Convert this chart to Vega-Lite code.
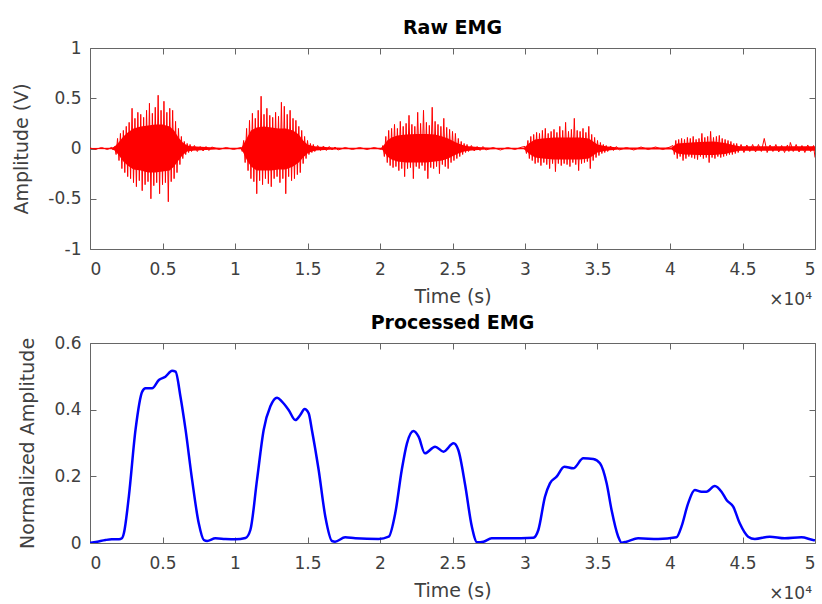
{
  "$schema": "https://vega.github.io/schema/vega-lite/v6.json",
  "padding": {"left": 12, "top": 18, "right": 5, "bottom": 2},
  "config": {
    "font": "DejaVu Sans",
    "view": {"stroke": "#666666", "strokeWidth": 1},
    "axis": {
      "grid": false, "domain": false, "tickColor": "#666666", "tickSize": -6, "tickWidth": 1,
      "labelFont": "DejaVu Sans", "labelFontSize": 17, "labelColor": "#404040",
      "titleFont": "DejaVu Sans", "titleFontSize": 19, "titleFontWeight": "normal", "titleColor": "#404040"
    },
    "axisX": {"labelPadding": 18, "titlePadding": 10},
    "axisY": {"labelPadding": 15, "titlePadding": 16},
    "title": {"font": "DejaVu Sans", "fontSize": 19, "fontWeight": "bold", "color": "#000000", "offset": 1},
    "concat": {"spacing": 4}
  },
  "vconcat": [
    {
      "title": "Raw EMG",
      "width": 725,
      "height": 201,
      "layer": [
        {
          "data": {"values": [
            {"t":0,"hi":0.006,"lo":-0.006},{"t":1500,"hi":0.008,"lo":-0.008},{"t":1700,"hi":0.02,"lo":-0.02},{"t":2000,"hi":0.065,"lo":-0.07},{"t":2300,"hi":0.12,"lo":-0.13},{"t":2600,"hi":0.16,"lo":-0.17},
            {"t":3000,"hi":0.2,"lo":-0.21},{"t":3500,"hi":0.22,"lo":-0.22},{"t":4000,"hi":0.23,"lo":-0.24},{"t":4500,"hi":0.24,"lo":-0.24},{"t":5000,"hi":0.24,"lo":-0.23},{"t":5500,"hi":0.22,"lo":-0.22},
            {"t":5800,"hi":0.18,"lo":-0.18},{"t":6100,"hi":0.11,"lo":-0.12},{"t":6400,"hi":0.06,"lo":-0.065},{"t":6700,"hi":0.03,"lo":-0.03},{"t":7000,"hi":0.022,"lo":-0.022},{"t":8000,"hi":0.014,"lo":-0.014},
            {"t":9000,"hi":0.008,"lo":-0.008},{"t":10400,"hi":0.008,"lo":-0.008},{"t":10500,"hi":0.02,"lo":-0.02},{"t":10800,"hi":0.1,"lo":-0.11},{"t":11100,"hi":0.18,"lo":-0.18},{"t":11500,"hi":0.21,"lo":-0.22},
            {"t":12000,"hi":0.22,"lo":-0.22},{"t":12500,"hi":0.21,"lo":-0.22},{"t":13000,"hi":0.2,"lo":-0.21},{"t":13500,"hi":0.2,"lo":-0.21},{"t":14000,"hi":0.18,"lo":-0.18},{"t":14400,"hi":0.14,"lo":-0.14},
            {"t":14700,"hi":0.08,"lo":-0.09},{"t":15000,"hi":0.04,"lo":-0.05},{"t":15300,"hi":0.028,"lo":-0.03},{"t":15600,"hi":0.02,"lo":-0.02},{"t":16500,"hi":0.012,"lo":-0.012},{"t":17500,"hi":0.008,"lo":-0.008},
            {"t":20100,"hi":0.008,"lo":-0.008},{"t":20200,"hi":0.02,"lo":-0.02},{"t":20500,"hi":0.08,"lo":-0.08},{"t":20800,"hi":0.11,"lo":-0.11},{"t":21200,"hi":0.13,"lo":-0.13},{"t":21800,"hi":0.14,"lo":-0.14},
            {"t":22500,"hi":0.145,"lo":-0.14},{"t":23200,"hi":0.145,"lo":-0.14},{"t":23800,"hi":0.14,"lo":-0.13},{"t":24300,"hi":0.12,"lo":-0.12},{"t":24700,"hi":0.1,"lo":-0.1},{"t":25100,"hi":0.07,"lo":-0.07},
            {"t":25400,"hi":0.05,"lo":-0.05},{"t":25800,"hi":0.03,"lo":-0.03},{"t":26100,"hi":0.022,"lo":-0.022},{"t":27000,"hi":0.012,"lo":-0.012},{"t":28000,"hi":0.008,"lo":-0.008},{"t":29900,"hi":0.008,"lo":-0.008},
            {"t":30000,"hi":0.015,"lo":-0.015},{"t":30300,"hi":0.055,"lo":-0.055},{"t":30700,"hi":0.09,"lo":-0.09},{"t":31200,"hi":0.1,"lo":-0.1},{"t":32000,"hi":0.11,"lo":-0.11},{"t":33000,"hi":0.11,"lo":-0.11},
            {"t":33800,"hi":0.11,"lo":-0.11},{"t":34400,"hi":0.1,"lo":-0.1},{"t":34700,"hi":0.07,"lo":-0.07},{"t":35000,"hi":0.04,"lo":-0.04},{"t":35400,"hi":0.028,"lo":-0.028},{"t":35700,"hi":0.02,"lo":-0.02},
            {"t":36500,"hi":0.01,"lo":-0.01},{"t":40100,"hi":0.01,"lo":-0.01},{"t":40200,"hi":0.02,"lo":-0.02},{"t":40500,"hi":0.05,"lo":-0.05},{"t":41000,"hi":0.055,"lo":-0.06},{"t":42000,"hi":0.065,"lo":-0.065},
            {"t":43000,"hi":0.07,"lo":-0.065},{"t":43800,"hi":0.055,"lo":-0.055},{"t":44200,"hi":0.04,"lo":-0.04},{"t":44600,"hi":0.028,"lo":-0.028},{"t":44800,"hi":0.022,"lo":-0.022},{"t":50000,"hi":0.022,"lo":-0.022}
          ]},
          "mark": {"type": "area", "color": "#ff0000", "opacity": 1, "clip": true},
          "encoding": {
            "x": {"field": "t", "type": "quantitative", "axis": null},
            "y": {"field": "hi", "type": "quantitative", "axis": null},
            "y2": {"field": "lo"}
          }
        },
        {
          "data": {"values": [
            {"t":0,"v":0.005},{"t":400,"v":-0.008},{"t":800,"v":0.01},{"t":1200,"v":-0.01},{"t":1500,"v":0.012},{"t":1600,"v":-0.015},
            {"t":1700,"v":0.02},{"t":1800,"v":-0.06},{"t":1900,"v":0.10},{"t":2000,"v":-0.12},{"t":2100,"v":0.15},{"t":2200,"v":-0.20},{"t":2300,"v":0.18},{"t":2400,"v":-0.24},{"t":2500,"v":0.22},{"t":2600,"v":-0.28},
            {"t":2700,"v":0.26},{"t":2800,"v":-0.30},{"t":2900,"v":0.40},{"t":3000,"v":-0.34},{"t":3100,"v":0.30},{"t":3200,"v":-0.38},{"t":3300,"v":0.36},{"t":3400,"v":-0.32},{"t":3500,"v":0.34},{"t":3600,"v":-0.42},
            {"t":3700,"v":0.31},{"t":3800,"v":-0.36},{"t":3900,"v":0.38},{"t":4000,"v":-0.33},{"t":4100,"v":0.45},{"t":4200,"v":-0.50},{"t":4300,"v":0.35},{"t":4400,"v":-0.37},{"t":4500,"v":0.41},{"t":4600,"v":-0.34},
            {"t":4700,"v":0.53},{"t":4800,"v":-0.45},{"t":4900,"v":0.38},{"t":5000,"v":-0.36},{"t":5100,"v":0.47},{"t":5200,"v":-0.34},{"t":5300,"v":0.36},{"t":5400,"v":-0.53},{"t":5500,"v":0.40},{"t":5600,"v":-0.33},
            {"t":5700,"v":0.38},{"t":5800,"v":-0.30},{"t":5900,"v":0.27},{"t":6000,"v":-0.24},{"t":6100,"v":0.20},{"t":6200,"v":-0.16},{"t":6300,"v":0.12},{"t":6400,"v":-0.10},{"t":6500,"v":0.07},{"t":6600,"v":-0.06},
            {"t":6700,"v":0.05},{"t":6800,"v":-0.04},{"t":6900,"v":0.04},{"t":7000,"v":-0.03},
            {"t":7200,"v":0.03},{"t":7400,"v":-0.03},{"t":7600,"v":0.02},{"t":7800,"v":-0.025},{"t":8000,"v":0.02},{"t":8200,"v":-0.02},{"t":8400,"v":0.015},
            {"t":8900,"v":-0.01},{"t":9400,"v":0.01},{"t":9900,"v":-0.01},{"t":10400,"v":0.01},
            {"t":10500,"v":-0.03},{"t":10600,"v":0.08},{"t":10700,"v":-0.14},{"t":10800,"v":0.20},{"t":10900,"v":-0.22},{"t":11000,"v":0.28},{"t":11100,"v":-0.30},{"t":11200,"v":0.35},{"t":11300,"v":-0.33},{"t":11400,"v":0.30},
            {"t":11500,"v":-0.45},{"t":11600,"v":0.38},{"t":11700,"v":-0.32},{"t":11800,"v":0.52},{"t":11900,"v":-0.36},{"t":12000,"v":0.34},{"t":12100,"v":-0.30},{"t":12200,"v":0.40},{"t":12300,"v":-0.35},{"t":12400,"v":0.33},
            {"t":12500,"v":-0.38},{"t":12600,"v":0.31},{"t":12700,"v":-0.30},{"t":12800,"v":0.36},{"t":12900,"v":-0.28},{"t":13000,"v":0.32},{"t":13100,"v":-0.34},{"t":13200,"v":0.46},{"t":13300,"v":-0.30},{"t":13400,"v":0.42},
            {"t":13500,"v":-0.45},{"t":13600,"v":0.34},{"t":13700,"v":-0.28},{"t":13800,"v":0.38},{"t":13900,"v":-0.32},{"t":14000,"v":0.30},{"t":14100,"v":-0.30},{"t":14200,"v":0.28},{"t":14300,"v":-0.26},{"t":14400,"v":0.22},
            {"t":14500,"v":-0.24},{"t":14600,"v":0.18},{"t":14700,"v":-0.15},{"t":14800,"v":0.12},{"t":14900,"v":-0.10},{"t":15000,"v":0.08},{"t":15100,"v":-0.06},{"t":15200,"v":0.05},{"t":15300,"v":-0.04},{"t":15400,"v":0.04},
            {"t":15500,"v":-0.03},{"t":15700,"v":0.03},{"t":15900,"v":-0.02},{"t":16100,"v":0.025},{"t":16300,"v":-0.02},{"t":16500,"v":0.02},{"t":16700,"v":-0.015},{"t":16900,"v":0.015},{"t":17100,"v":-0.015},
            {"t":17600,"v":0.01},{"t":18100,"v":-0.01},{"t":18600,"v":0.01},{"t":19100,"v":-0.01},{"t":19600,"v":0.01},{"t":20100,"v":-0.01},
            {"t":20200,"v":0.03},{"t":20300,"v":-0.08},{"t":20400,"v":0.12},{"t":20500,"v":-0.14},{"t":20600,"v":0.18},{"t":20700,"v":-0.17},{"t":20800,"v":0.20},{"t":20900,"v":-0.19},{"t":21000,"v":0.24},{"t":21100,"v":-0.18},
            {"t":21200,"v":0.20},{"t":21300,"v":-0.22},{"t":21400,"v":0.27},{"t":21500,"v":-0.20},{"t":21600,"v":0.22},{"t":21700,"v":-0.28},{"t":21800,"v":0.25},{"t":21900,"v":-0.20},{"t":22000,"v":0.33},{"t":22100,"v":-0.19},
            {"t":22200,"v":0.24},{"t":22300,"v":-0.30},{"t":22400,"v":0.22},{"t":22500,"v":-0.18},{"t":22600,"v":0.36},{"t":22700,"v":-0.20},{"t":22800,"v":0.25},{"t":22900,"v":-0.17},{"t":23000,"v":0.38},{"t":23100,"v":-0.22},
            {"t":23200,"v":0.26},{"t":23300,"v":-0.30},{"t":23400,"v":0.23},{"t":23500,"v":-0.19},{"t":23600,"v":0.41},{"t":23700,"v":-0.20},{"t":23800,"v":0.27},{"t":23900,"v":-0.18},{"t":24000,"v":0.24},{"t":24100,"v":-0.25},
            {"t":24200,"v":0.22},{"t":24300,"v":-0.16},{"t":24400,"v":0.30},{"t":24500,"v":-0.18},{"t":24600,"v":0.21},{"t":24700,"v":-0.20},{"t":24800,"v":0.19},{"t":24900,"v":-0.14},{"t":25000,"v":0.17},{"t":25100,"v":-0.12},
            {"t":25200,"v":0.15},{"t":25300,"v":-0.10},{"t":25400,"v":0.10},{"t":25500,"v":-0.08},{"t":25600,"v":0.07},{"t":25700,"v":-0.06},{"t":25800,"v":0.05},{"t":25900,"v":-0.04},{"t":26000,"v":0.04},{"t":26100,"v":-0.03},
            {"t":26300,"v":0.03},{"t":26500,"v":-0.025},{"t":26700,"v":0.02},{"t":26900,"v":-0.02},{"t":27100,"v":0.02},{"t":27300,"v":-0.015},
            {"t":27800,"v":0.01},{"t":28300,"v":-0.015},{"t":28800,"v":0.01},{"t":29300,"v":-0.01},{"t":29800,"v":0.015},
            {"t":30000,"v":0.02},{"t":30100,"v":-0.05},{"t":30200,"v":0.08},{"t":30300,"v":-0.10},{"t":30400,"v":0.12},{"t":30500,"v":-0.12},{"t":30600,"v":0.14},{"t":30700,"v":-0.15},{"t":30800,"v":0.16},{"t":30900,"v":-0.14},
            {"t":31000,"v":0.15},{"t":31100,"v":-0.17},{"t":31200,"v":0.18},{"t":31300,"v":-0.14},{"t":31400,"v":0.20},{"t":31500,"v":-0.16},{"t":31600,"v":0.15},{"t":31700,"v":-0.20},{"t":31800,"v":0.17},{"t":31900,"v":-0.15},
            {"t":32000,"v":0.19},{"t":32100,"v":-0.23},{"t":32200,"v":0.16},{"t":32300,"v":-0.15},{"t":32400,"v":0.22},{"t":32500,"v":-0.17},{"t":32600,"v":0.18},{"t":32700,"v":-0.15},{"t":32800,"v":0.26},{"t":32900,"v":-0.16},
            {"t":33000,"v":0.17},{"t":33100,"v":-0.18},{"t":33200,"v":0.19},{"t":33300,"v":-0.14},{"t":33400,"v":0.30},{"t":33500,"v":-0.16},{"t":33600,"v":0.18},{"t":33700,"v":-0.22},{"t":33800,"v":0.17},{"t":33900,"v":-0.15},
            {"t":34000,"v":0.20},{"t":34100,"v":-0.14},{"t":34200,"v":0.16},{"t":34300,"v":-0.13},{"t":34400,"v":0.22},{"t":34500,"v":-0.20},{"t":34600,"v":0.14},{"t":34700,"v":-0.12},{"t":34800,"v":0.11},{"t":34900,"v":-0.09},
            {"t":35000,"v":0.08},{"t":35100,"v":-0.07},{"t":35200,"v":0.06},{"t":35300,"v":-0.05},{"t":35400,"v":0.04},{"t":35500,"v":-0.04},{"t":35600,"v":0.03},{"t":35700,"v":-0.03},
            {"t":35900,"v":0.025},{"t":36100,"v":-0.02},{"t":36300,"v":0.02},{"t":36500,"v":-0.015},
            {"t":37000,"v":0.01},{"t":37500,"v":-0.015},{"t":38000,"v":0.015},{"t":38500,"v":-0.01},{"t":39000,"v":0.015},{"t":39500,"v":-0.01},{"t":40000,"v":0.015},
            {"t":40200,"v":0.03},{"t":40300,"v":-0.06},{"t":40400,"v":0.08},{"t":40500,"v":-0.10},{"t":40600,"v":0.09},{"t":40700,"v":-0.08},{"t":40800,"v":0.10},{"t":40900,"v":-0.12},{"t":41000,"v":0.09},{"t":41100,"v":-0.10},
            {"t":41200,"v":0.11},{"t":41300,"v":-0.08},{"t":41400,"v":0.10},{"t":41500,"v":-0.09},{"t":41600,"v":0.12},{"t":41700,"v":-0.10},{"t":41800,"v":0.09},{"t":41900,"v":-0.11},{"t":42000,"v":0.10},{"t":42100,"v":-0.08},
            {"t":42200,"v":0.15},{"t":42300,"v":-0.10},{"t":42400,"v":0.11},{"t":42500,"v":-0.09},{"t":42600,"v":0.12},{"t":42700,"v":-0.14},{"t":42800,"v":0.17},{"t":42900,"v":-0.09},{"t":43000,"v":0.11},{"t":43100,"v":-0.10},
            {"t":43200,"v":0.12},{"t":43300,"v":-0.08},{"t":43400,"v":0.13},{"t":43500,"v":-0.09},{"t":43600,"v":0.10},{"t":43700,"v":-0.08},{"t":43800,"v":0.09},{"t":43900,"v":-0.07},{"t":44000,"v":0.08},{"t":44100,"v":-0.06},
            {"t":44200,"v":0.07},{"t":44300,"v":-0.06},{"t":44400,"v":0.05},{"t":44500,"v":-0.05},{"t":44600,"v":0.05},{"t":44700,"v":-0.04},
            {"t":44900,"v":0.04},{"t":45100,"v":-0.04},{"t":45300,"v":0.035},{"t":45500,"v":-0.03},{"t":45700,"v":0.04},{"t":45900,"v":-0.035},{"t":46100,"v":0.04},{"t":46300,"v":-0.03},{"t":46500,"v":0.10},{"t":46700,"v":-0.04},
            {"t":46900,"v":0.035},{"t":47100,"v":-0.03},{"t":47300,"v":0.04},{"t":47500,"v":-0.035},{"t":47700,"v":0.03},{"t":47900,"v":-0.04},{"t":48100,"v":0.035},{"t":48200,"v":-0.03},{"t":48300,"v":0.06},{"t":48500,"v":-0.03},
            {"t":48700,"v":0.04},{"t":48900,"v":-0.035},{"t":49100,"v":0.03},{"t":49300,"v":-0.04},{"t":49500,"v":0.035},{"t":49700,"v":-0.03},{"t":49900,"v":0.03},{"t":50000,"v":-0.09}
          ]},
          "mark": {"type": "line", "color": "#ff0000", "strokeWidth": 1, "clip": true},
          "encoding": {
            "x": {"field": "t", "type": "quantitative", "scale": {"domain": [0, 50000], "nice": false, "zero": false},
                  "axis": {"orient": "bottom", "values": [0,5000,10000,15000,20000,25000,30000,35000,40000,45000,50000], "labelExpr": "format(datum.value/10000, '~g')", "title": "Time (s)"}},
            "y": {"field": "v", "type": "quantitative", "scale": {"domain": [-1, 1], "nice": false},
                  "axis": {"orient": "left", "values": [-1,-0.5,0,0.5,1], "labelExpr": "replace(format(datum.value, '~g'), '\u2212', '-')", "title": "Amplitude (V)"}}
          }
        },
        {
          "data": {"values": [{"label": "\u00d710\u2074"}]},
          "mark": {"type": "text", "align": "right", "baseline": "middle", "dy": 51, "dx": -3, "fontSize": 17, "color": "#404040", "font": "DejaVu Sans"},
          "encoding": {
            "x": {"datum": 50000, "type": "quantitative",
                  "axis": {"orient": "top", "values": [0,5000,10000,15000,20000,25000,30000,35000,40000,45000,50000], "labels": false, "title": null}},
            "y": {"datum": -1, "type": "quantitative",
                  "axis": {"orient": "right", "values": [-1,-0.5,0,0.5,1], "labels": false, "title": null}},
            "text": {"field": "label"}
          }
        }
      ],
      "resolve": {"axis": {"x": "independent", "y": "independent"}}
    },
    {
      "title": "Processed EMG",
      "width": 725,
      "height": 200,
      "layer": [
        {
          "data": {"values": [
            {"t":0,"v":0},{"t":500,"v":0.004},{"t":1070,"v":0.009},{"t":1500,"v":0.011},{"t":2000,"v":0.011},{"t":2200,"v":0.014},{"t":2340,"v":0.03},{"t":2680,"v":0.14},{"t":3140,"v":0.34},{"t":3600,"v":0.454},
            {"t":3830,"v":0.464},{"t":4280,"v":0.464},{"t":4750,"v":0.489},{"t":5200,"v":0.499},{"t":5660,"v":0.517},{"t":5900,"v":0.514},{"t":6240,"v":0.439},{"t":6590,"v":0.34},{"t":7040,"v":0.19},{"t":7500,"v":0.059},
            {"t":7850,"v":0.009},{"t":8080,"v":0.006},{"t":8650,"v":0.014},{"t":9340,"v":0.012},{"t":10030,"v":0.011},{"t":10720,"v":0.015},{"t":11060,"v":0.039},{"t":11520,"v":0.19},{"t":11980,"v":0.34},{"t":12440,"v":0.41},
            {"t":12900,"v":0.436},{"t":13240,"v":0.424},{"t":13700,"v":0.399},{"t":14160,"v":0.369},{"t":14500,"v":0.384},{"t":14800,"v":0.402},{"t":15080,"v":0.389},{"t":15300,"v":0.34},{"t":15770,"v":0.219},{"t":16230,"v":0.079},
            {"t":16690,"v":0.006},{"t":16900,"v":0.004},{"t":17600,"v":0.017},{"t":18300,"v":0.014},{"t":19900,"v":0.012},{"t":20600,"v":0.019},{"t":21050,"v":0.089},{"t":21500,"v":0.219},{"t":21860,"v":0.299},{"t":22310,"v":0.336},
            {"t":22660,"v":0.319},{"t":23100,"v":0.269},{"t":23800,"v":0.289},{"t":24380,"v":0.274},{"t":25070,"v":0.299},{"t":25400,"v":0.279},{"t":25870,"v":0.175},{"t":26330,"v":0.05},{"t":26700,"v":0.002},{"t":27130,"v":0.004},
            {"t":27700,"v":0.014},{"t":28850,"v":0.014},{"t":30580,"v":0.016},{"t":30920,"v":0.039},{"t":31380,"v":0.139},{"t":31720,"v":0.179},{"t":32180,"v":0.199},{"t":32710,"v":0.229},{"t":33330,"v":0.224},{"t":34020,"v":0.254},
            {"t":34710,"v":0.252},{"t":35170,"v":0.239},{"t":35630,"v":0.179},{"t":35970,"v":0.099},{"t":36430,"v":0.019},{"t":36660,"v":0.001},{"t":37000,"v":0.004},{"t":37800,"v":0.014},{"t":39180,"v":0.012},{"t":40450,"v":0.017},
            {"t":40790,"v":0.049},{"t":41250,"v":0.119},{"t":41710,"v":0.159},{"t":42170,"v":0.154},{"t":42510,"v":0.154},{"t":43090,"v":0.171},{"t":43550,"v":0.154},{"t":43900,"v":0.129},{"t":44360,"v":0.109},{"t":44810,"v":0.059},
            {"t":45390,"v":0.019},{"t":45850,"v":0.012},{"t":46880,"v":0.019},{"t":47910,"v":0.014},{"t":49060,"v":0.017},{"t":49860,"v":0.009},{"t":50000,"v":0.008}
          ]},
          "mark": {"type": "line", "color": "#0000ff", "strokeWidth": 2.5, "interpolate": "monotone", "clip": true},
          "encoding": {
            "x": {"field": "t", "type": "quantitative", "scale": {"domain": [0, 50000], "nice": false, "zero": false},
                  "axis": {"orient": "bottom", "values": [0,5000,10000,15000,20000,25000,30000,35000,40000,45000,50000], "labelExpr": "format(datum.value/10000, '~g')", "title": "Time (s)"}},
            "y": {"field": "v", "type": "quantitative", "scale": {"domain": [0, 0.6], "nice": false},
                  "axis": {"orient": "left", "values": [0,0.2,0.4,0.6], "labelExpr": "format(datum.value, '~g')", "title": "Normalized Amplitude"}}
          }
        },
        {
          "data": {"values": [{"label": "\u00d710\u2074"}]},
          "mark": {"type": "text", "align": "right", "baseline": "middle", "dy": 51, "dx": -3, "fontSize": 17, "color": "#404040", "font": "DejaVu Sans"},
          "encoding": {
            "x": {"datum": 50000, "type": "quantitative",
                  "axis": {"orient": "top", "values": [0,5000,10000,15000,20000,25000,30000,35000,40000,45000,50000], "labels": false, "title": null}},
            "y": {"datum": 0, "type": "quantitative",
                  "axis": {"orient": "right", "values": [0,0.2,0.4,0.6], "labels": false, "title": null}},
            "text": {"field": "label"}
          }
        }
      ],
      "resolve": {"axis": {"x": "independent", "y": "independent"}}
    }
  ]
}
